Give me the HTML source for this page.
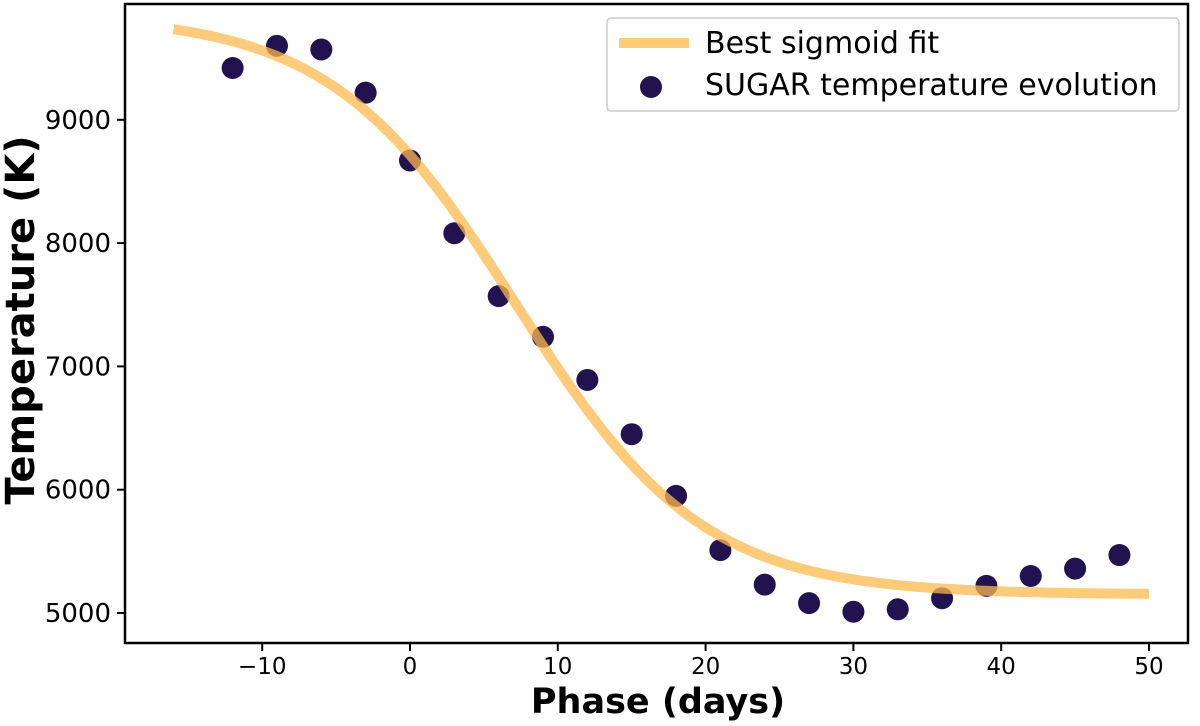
<!DOCTYPE html>
<html><head><meta charset="utf-8"><style>
body{margin:0;background:#fff;}
text{font-family:"DejaVu Sans","Liberation Sans",sans-serif;}
</style></head><body>
<svg id="chart" width="1200" height="721" viewBox="0 0 1200 721" xmlns="http://www.w3.org/2000/svg">
<g id="plot"></g>
</svg>
<script>
const phases=[-12,-9,-6,-3,0,3,6,9,12,15,18,21,24,27,30,33,36,39,42,45,48];
const temps=[9420,9600,9570,9220,8670,8080,7570,7240,6890,6450,5950,5510,5230,5080,5010,5030,5120,5220,5300,5360,5470];
const fitParams=[9850,5150,7.2,6.3]; // high, low, midpoint, width
const fitRange=[-16,50];
const xTicks=[-10,0,10,20,30,40,50];
const yTicks=[5000,6000,7000,8000,9000];
const L=125,R=1188,T=4,B=643;
function sx(v){return 410+(v-0)*14.78;}
function sy(v){return 613-(v-5000)*0.1233;}
const NS="http://www.w3.org/2000/svg";
const g=document.getElementById('plot');
function mk(tag,attrs,parent){const e=document.createElementNS(NS,tag);for(const k in attrs)e.setAttribute(k,attrs[k]);(parent||g).appendChild(e);return e;}
phases.forEach((p,i)=>{const c=mk('circle',{cx:sx(p),cy:sy(temps[i]),r:11,fill:'#22124f'});

});
let d="";
for(let i=0;i<=200;i++){const x=fitRange[0]+(fitRange[1]-fitRange[0])*i/200;
const y=fitParams[1]+(fitParams[0]-fitParams[1])/(1+Math.exp((x-fitParams[2])/fitParams[3]));
d+=(i?"L":"M")+sx(x).toFixed(1)+","+sy(y).toFixed(1);}
const line=mk('path',{d:d,fill:'none',stroke:'#fdb94d','stroke-opacity':0.75,'stroke-width':10});


const fr=mk('rect',{x:L,y:T,width:R-L,height:B-T,fill:'none',stroke:'#000','stroke-width':2.5});


xTicks.forEach(t=>{mk('line',{x1:sx(t),x2:sx(t),y1:B,y2:B+8,stroke:'#000','stroke-width':2});
const tx=mk('text',{x:sx(t),y:B+31,'font-size':23,'text-anchor':'middle'});tx.textContent=(t<0?'\u2212'+(-t):t);

});
yTicks.forEach(t=>{mk('line',{x1:L-8,x2:L,y1:sy(t),y2:sy(t),stroke:'#000','stroke-width':2});
const tx=mk('text',{x:L-14,y:sy(t)+9,'font-size':26,'text-anchor':'end'});tx.textContent=t;

});
const xl=mk('text',{x:658,y:713,'font-size':35,'font-weight':'bold','text-anchor':'middle'});xl.textContent='Phase (days)';


const yl=mk('text',{x:0,y:0,'font-size':40,'font-weight':'bold','text-anchor':'middle',transform:'translate(34,320) rotate(-90)'});yl.textContent='Temperature (K)';


const lg=mk('g',{});


mk('rect',{x:607,y:18,width:572,height:93,rx:4,fill:'#fff',stroke:'#ccc','stroke-width':1.5},lg);
mk('line',{x1:619,x2:689,y1:43,y2:43,stroke:'#fdb94d','stroke-opacity':0.75,'stroke-width':10},lg);
const t1=mk('text',{x:705,y:53,'font-size':30},lg);t1.textContent='Best sigmoid fit';


mk('circle',{cx:651,cy:87,r:11,fill:'#22124f'},lg);
const t2=mk('text',{x:705,y:95,'font-size':30},lg);t2.textContent='SUGAR temperature evolution';


</script>
</body></html>
